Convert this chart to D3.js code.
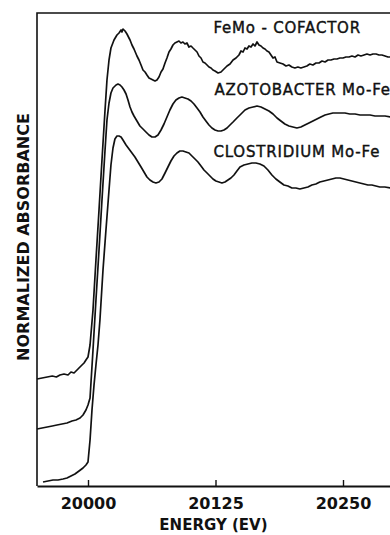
<!DOCTYPE html>
<html>
<head>
<meta charset="utf-8">
<script src="https://cdn.jsdelivr.net/npm/d3@7"></script>
<style>
  html, body { margin: 0; padding: 0; background: #fff; }
  svg { display: block; }
</style>
</head>
<body>
<div id="chart"></div>
<script>
// Mo K-edge X-ray absorption spectra (normalized, vertically offset)
const seriesNames = ["FeMo - COFACTOR", "AZOTOBACTER Mo-Fe", "CLOSTRIDIUM Mo-Fe"];

// FeMo-cofactor: [energy (eV), absorbance]
const femoCofactor = [
  [19950,1.07],[19955,1.08],[19960,1.09],[19965,1.10],[19969,1.09],[19972.5,1.11],[19976.5,1.12],
  [19980.4,1.11],[19983.3,1.14],[19986.3,1.13],[19990.2,1.17],[19993.1,1.20],[19996.1,1.23],
  [19998,1.26],[20000,1.29],[20002,1.41],[20004.9,1.76],[20007.8,2.26],[20010.8,2.76],
  [20013.7,3.26],[20016.7,3.76],[20018.6,4.06],[20020.6,4.26],[20022.5,4.38],[20025.5,4.46],
  [20028.4,4.51],[20030.4,4.53],[20032.4,4.56],[20033.3,4.54],[20034.3,4.57],[20036.3,4.55],
  [20038.2,4.52],[20041.2,4.46],[20043.1,4.41],[20045.1,4.37],[20048,4.30],[20050,4.26],
  [20052,4.21],[20053.9,4.16],[20055.9,4.14],[20057.8,4.11],[20059.8,4.08],[20061.8,4.07],
  [20063.7,4.06],[20065.7,4.05],[20067.6,4.06],[20069.6,4.09],[20071.6,4.14],[20073.5,4.17],
  [20075.5,4.23],[20077.4,4.28],[20079.4,4.34],[20081.3,4.37],[20083.3,4.41],[20085.2,4.43],
  [20087.2,4.44],[20089.2,4.45],[20091.1,4.43],[20093.1,4.44],[20095,4.42],[20097,4.43],
  [20099,4.39],[20101,4.40],[20102.9,4.38],[20104.9,4.36],[20106.9,4.34],[20108.8,4.30],
  [20110.8,4.28],[20112.7,4.24],[20114.7,4.23],[20116.7,4.21],[20118.6,4.19],[20120.6,4.18],
  [20122.5,4.16],[20124.5,4.15],[20127.5,4.13],[20130.4,4.14],[20133.3,4.17],[20136.3,4.20],
  [20139.2,4.22],[20142.2,4.26],[20145.1,4.28],[20148,4.31],[20150,4.35],[20152,4.34],
  [20153.9,4.38],[20155.9,4.37],[20157.8,4.40],[20159.8,4.39],[20161.8,4.42],[20163.7,4.40],
  [20165.7,4.44],[20167.6,4.41],[20169.6,4.40],[20171.6,4.38],[20173.5,4.37],[20175.5,4.35],
  [20177.4,4.34],[20179.4,4.31],[20181.4,4.28],[20183.3,4.29],[20185.3,4.24],[20188.2,4.23],
  [20191.2,4.22],[20194.1,4.20],[20197,4.21],[20199.9,4.19],[20202.8,4.18],[20205.8,4.19],
  [20208.7,4.18],[20211.7,4.19],[20214.6,4.20],[20217.5,4.22],[20220.5,4.21],[20223.5,4.23],
  [20226.5,4.23],[20229.4,4.25],[20232.4,4.24],[20235.3,4.26],[20238.2,4.26],[20241.2,4.27],
  [20244.1,4.27],[20247,4.28],[20250,4.28],[20252.9,4.29],[20255.9,4.29],[20258.8,4.30],
  [20261.8,4.29],[20264.7,4.31],[20267.6,4.30],[20270.6,4.31],[20273.5,4.32],[20276.5,4.31],
  [20279.4,4.32],[20282.4,4.32],[20285.3,4.31],[20288.2,4.31],[20291.2,4.30],[20294.1,4.29],
  [20297.1,4.29]
];

// Azotobacter MoFe protein
const azotobacterMoFe = [
  [19950,0.57],[19955,0.58],[19960,0.59],[19965,0.60],[19969.6,0.61],[19974.5,0.62],[19979.4,0.63],
  [19984.3,0.65],[19988.2,0.66],[19992.2,0.68],[19995.1,0.71],[19998,0.76],[20000,0.81],
  [20002,0.88],[20004.9,1.36],[20007.8,1.86],[20010.8,2.36],[20013.7,2.86],[20016.7,3.36],
  [20018.6,3.66],[20020.6,3.83],[20022.5,3.93],[20024.5,3.98],[20027.5,4.01],[20029.4,4.02],
  [20031.4,4.01],[20033.3,3.99],[20035.3,3.96],[20037.3,3.92],[20039.2,3.86],[20041.2,3.79],
  [20043.1,3.74],[20045.1,3.70],[20048,3.65],[20050.9,3.60],[20053.9,3.57],[20056.8,3.54],
  [20059.8,3.51],[20062.7,3.49],[20065.7,3.49],[20068.6,3.51],[20071.6,3.56],[20074.5,3.62],
  [20077.4,3.69],[20080.3,3.76],[20083.3,3.82],[20086.2,3.86],[20089.2,3.88],[20092.1,3.89],
  [20095,3.88],[20098,3.87],[20101,3.85],[20103.9,3.82],[20106.9,3.78],[20109.8,3.74],
  [20112.7,3.69],[20115.6,3.65],[20118.6,3.61],[20121.5,3.58],[20124.5,3.56],[20127.5,3.55],
  [20130.4,3.55],[20133.3,3.56],[20136.3,3.58],[20139.2,3.61],[20142.2,3.64],[20146,3.68],
  [20150,3.72],[20153.9,3.76],[20157.8,3.78],[20161.8,3.79],[20165.7,3.80],[20169.6,3.79],
  [20173.5,3.77],[20177.4,3.75],[20181.4,3.72],[20185.3,3.68],[20189.1,3.65],[20193,3.62],
  [20197,3.60],[20200.9,3.59],[20204.8,3.58],[20208.7,3.59],[20212.6,3.61],[20216.6,3.63],
  [20220.5,3.65],[20224.4,3.67],[20228.3,3.69],[20232.4,3.71],[20236.2,3.72],[20240.1,3.73],
  [20244.1,3.73],[20248,3.73],[20251.9,3.73],[20256.7,3.72],[20261.8,3.72],[20266.7,3.71],
  [20271.6,3.71],[20276.5,3.71],[20281.4,3.70],[20286.3,3.70],[20291.2,3.70],[20297.1,3.69]
];

// Clostridium MoFe protein
const clostridiumMoFe = [
  [19955.9,0.04],[19960.8,0.05],[19965.7,0.06],[19970.6,0.06],[19975.5,0.07],[19979.4,0.08],
  [19983.3,0.10],[19987.2,0.12],[19991.2,0.15],[19995.1,0.18],[19998,0.21],[20000,0.24],
  [20002,0.46],[20003.9,0.76],[20005.9,1.01],[20007.8,1.21],[20009.8,1.41],[20011.7,1.66],
  [20014.7,2.16],[20017.6,2.56],[20020.6,2.96],[20022.5,3.21],[20024.5,3.38],[20026.4,3.47],
  [20028.4,3.50],[20030.4,3.50],[20032.4,3.49],[20034.3,3.46],[20037.3,3.41],[20040.2,3.37],
  [20043.1,3.33],[20046,3.29],[20049,3.24],[20052,3.19],[20054.9,3.14],[20057.8,3.09],
  [20060.7,3.06],[20063.7,3.04],[20066.6,3.03],[20069.6,3.04],[20072.5,3.07],[20075.5,3.13],
  [20078.4,3.19],[20081.3,3.25],[20084.3,3.30],[20087.2,3.33],[20090.1,3.35],[20093.1,3.35],
  [20096,3.34],[20099,3.33],[20101.9,3.30],[20104.9,3.27],[20107.8,3.24],[20110.8,3.20],
  [20113.7,3.16],[20116.7,3.13],[20119.6,3.10],[20122.5,3.07],[20125.4,3.05],[20128.4,3.04],
  [20131.3,3.03],[20134.3,3.04],[20137.2,3.06],[20140.1,3.08],[20143.1,3.11],[20146,3.15],
  [20149,3.19],[20152.9,3.21],[20156.8,3.22],[20160.7,3.23],[20164.6,3.23],[20168.5,3.22],
  [20172.5,3.20],[20176.4,3.16],[20180.3,3.11],[20184.2,3.07],[20188.1,3.04],[20192.1,3.01],
  [20196,3.00],[20199.9,2.98],[20203.8,2.98],[20207.7,2.97],[20211.7,2.98],[20215.6,2.99],
  [20219.5,3.01],[20223.4,3.02],[20227.3,3.04],[20231.3,3.05],[20235.2,3.06],[20239.1,3.07],
  [20243,3.08],[20247,3.08],[20250.9,3.07],[20254.8,3.06],[20258.7,3.05],[20262.6,3.04],
  [20266.5,3.03],[20270.5,3.02],[20274.4,3.01],[20278.3,3.01],[20282.2,3.00],[20286.1,2.99],
  [20291,2.99],[20297,2.98]
];

const xTickValues = [20000, 20125, 20250];
const xDomain = [19950, 20300];
const yDomain = [0, 4.73];
const xTitle = "ENERGY (EV)";
const yTitle = "NORMALIZED ABSORBANCE";

const W = 390, H = 535;
const margin = { left: 37, top: 13, bottom: 49 };
const plotW = 357;                       // frame runs slightly past the right edge
const plotH = H - margin.top - margin.bottom;

const svg = d3.select("#chart").append("svg")
  .attr("width", W).attr("height", H)
  .attr("viewBox", `0 0 ${W} ${H}`);

const x = d3.scaleLinear().domain(xDomain).range([margin.left, margin.left + plotW]);
const y = d3.scaleLinear().domain(yDomain).range([margin.top + plotH, margin.top]);

const ink = "#111";

// frame: left and top edges
svg.append("path")
  .attr("d", `M${x(xDomain[0])},${y(yDomain[0])}V${y(yDomain[1])}H${x(xDomain[1])}`)
  .attr("fill", "none").attr("stroke", ink).attr("stroke-width", 1.6);

// bottom axis with inward ticks
const xAxis = d3.axisBottom(x)
  .tickValues(xTickValues)
  .tickFormat(d3.format("d"))
  .tickSizeInner(-6)
  .tickSizeOuter(0);

const gx = svg.append("g")
  .attr("transform", `translate(0,${y(yDomain[0])})`)
  .call(xAxis);
gx.select(".domain").attr("stroke", ink).attr("stroke-width", 2.2);
gx.selectAll(".tick line").attr("stroke", ink).attr("stroke-width", 1.4);
gx.selectAll(".tick text")
  .attr("y", 23).attr("dy", null)
  .attr("fill", ink)
  .style("font-family", "'DejaVu Sans', sans-serif")
  .style("font-weight", "bold")
  .style("font-size", "16px");

// axis titles
svg.append("text")
  .attr("x", x(20123)).attr("y", 530)
  .attr("text-anchor", "middle")
  .attr("fill", ink)
  .style("font-family", "'DejaVu Sans', sans-serif")
  .style("font-weight", "bold")
  .style("font-size", "15px")
  .text(xTitle);

svg.append("text")
  .attr("transform", `translate(29,${237}) rotate(-90)`)
  .attr("text-anchor", "middle")
  .attr("fill", ink)
  .style("font-family", "'DejaVu Sans', sans-serif")
  .style("font-weight", "bold")
  .style("font-size", "16px")
  .text(yTitle);

// spectra
const line = d3.line()
  .x(d => x(d[0]))
  .y(d => y(d[1]))
  .curve(d3.curveLinear);

const spectra = [femoCofactor, azotobacterMoFe, clostridiumMoFe];
svg.append("g")
  .selectAll("path")
  .data(spectra)
  .join("path")
  .attr("d", line)
  .attr("fill", "none")
  .attr("stroke", ink)
  .attr("stroke-width", 1.7)
  .attr("stroke-linejoin", "round");

// curve labels
const labelAnchors = [[20123, 4.53], [20124, 3.91], [20123, 3.29]];
svg.append("g")
  .selectAll("text")
  .data(seriesNames)
  .join("text")
  .attr("x", (d, i) => x(labelAnchors[i][0]))
  .attr("y", (d, i) => y(labelAnchors[i][1]))
  .attr("fill", ink)
  .attr("stroke", ink)
  .attr("stroke-width", 0.4)
  .style("font-family", "'DejaVu Sans', sans-serif")
  .style("font-size", "15px")
  .style("letter-spacing", "0.8px")
  .text(d => d);
</script>
</body>
</html>
